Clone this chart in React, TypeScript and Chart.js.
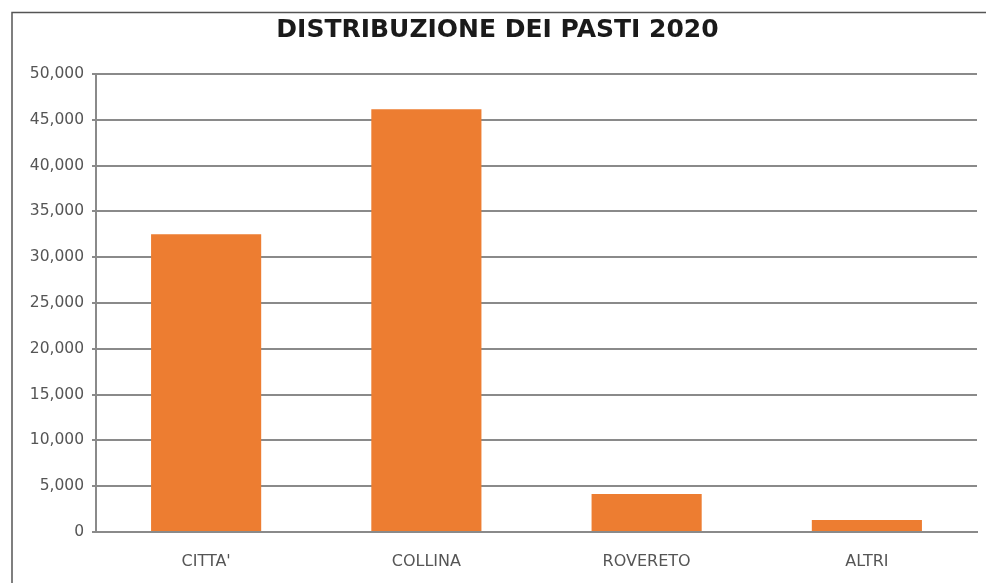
import React, { useEffect, useRef } from "react";
import { Chart, registerables } from "chart.js";

Chart.register(...registerables);

const categories = ["CITTA'", "COLLINA", "ROVERETO", "ALTRI"];
const pasti = [32500, 46150, 4150, 1300];
const yTicks = [0, 5000, 10000, 15000, 20000, 25000, 30000, 35000, 40000, 45000, 50000];
const titleText = "DISTRIBUZIONE DEI PASTI 2020";

const framePlugin = {
  id: "frame",
  afterDraw(chart: any) {
    const ctx = chart.ctx;
    ctx.save();
    ctx.strokeStyle = "#555555";
    ctx.lineWidth = 1.5;
    ctx.beginPath();
    ctx.moveTo(12, chart.height);
    ctx.lineTo(12, 12.5);
    ctx.lineTo(chart.width, 12.5);
    ctx.stroke();
    ctx.restore();
  },
};

export default function App() {
  const ref = useRef<HTMLCanvasElement | null>(null);
  useEffect(() => {
    document.body.style.margin = "0";
    const canvas = ref.current!;
    const chart = new Chart(canvas, {
      type: "bar",
      data: {
        labels: categories,
        datasets: [
          {
            data: pasti,
            backgroundColor: "#ED7D31",
            borderWidth: 0,
            barPercentage: 0.5,
            categoryPercentage: 1,
          },
        ],
      },
      plugins: [framePlugin],
      options: {
        animation: false,
        responsive: false,
        locale: "en-US",
        layout: { padding: { left: 18, right: 9, top: 0, bottom: 0 } },
        plugins: {
          legend: { display: false },
          tooltip: { enabled: false },
          title: {
            display: true,
            text: titleText,
            color: "#1a1a1a",
            font: { family: "'DejaVu Sans'", size: 25, weight: "bold", lineHeight: 1.2 },
            padding: { top: 15.5, bottom: 28.5 },
          },
        },
        scales: {
          x: {
            grid: { display: false, drawTicks: false },
            border: { display: true, color: "#8a8a8a", width: 2 },
            ticks: {
              color: "#555555",
              font: { family: "'DejaVu Sans'", size: 16 },
              padding: 20,
            },
            afterFit(scale: any) {
              scale.height = 51;
            },
          },
          y: {
            min: 0,
            max: 50000,
            afterBuildTicks(scale: any) {
              scale.ticks = yTicks.map((v) => ({ value: v }));
            },
            grid: { color: "#8a8a8a", lineWidth: 2, tickLength: 4 },
            border: { display: true, color: "#8a8a8a", width: 2 },
            ticks: {
              color: "#555555",
              font: { family: "'DejaVu Sans'", size: 15.5 },
              padding: 8,
              callback: (v: any) => Number(v).toLocaleString("en-US"),
            },
            afterFit(scale: any) {
              scale.width = 78;
            },
          },
        },
      },
    } as any);
    return () => chart.destroy();
  }, []);
  return (
    <canvas
      ref={ref}
      width={986}
      height={583}
      style={{ display: "block", width: 986, height: 583, background: "#ffffff" }}
    />
  );
}
